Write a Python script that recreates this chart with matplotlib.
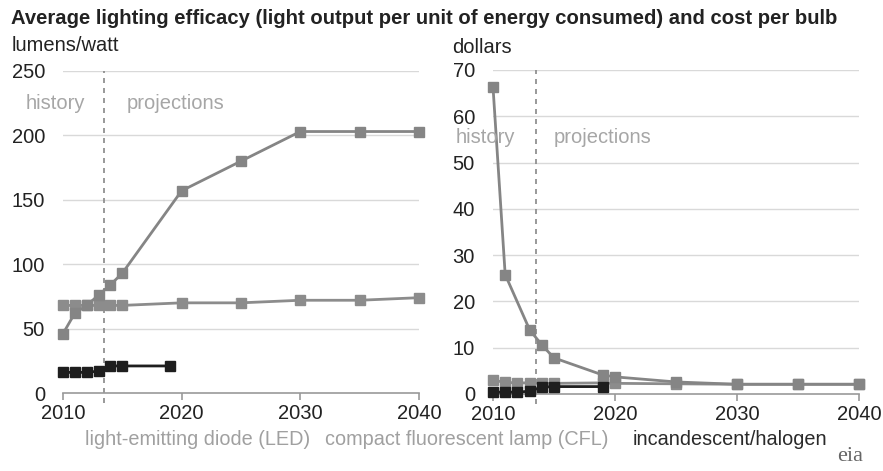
import matplotlib.pyplot as plt

plt.rcParams['font.family'] = ['Liberation Sans', 'DejaVu Sans']

# efficacy, lumens/watt
led_eff_years = [2010, 2011, 2012, 2013, 2014, 2015, 2020, 2025, 2030, 2035, 2040]
led_eff = [46, 62, 68, 76, 84, 93, 157, 180, 203, 203, 203]
cfl_eff_years = [2010, 2011, 2012, 2013, 2014, 2015, 2020, 2025, 2030, 2035, 2040]
cfl_eff = [68, 68, 68, 68, 68, 68, 70, 70, 72, 72, 74]
inc_eff_years = [2010, 2011, 2012, 2013, 2014, 2015, 2019]
inc_eff = [16, 16, 16, 17, 21, 21, 21]

# cost per bulb, dollars
led_cost_years = [2010, 2011, 2013, 2014, 2015, 2019, 2020, 2025, 2030, 2035, 2040]
led_cost = [66.4, 25.8, 13.9, 10.6, 7.8, 4.1, 3.7, 2.6, 2.1, 2.1, 2.1]
cfl_cost_years = [2010, 2011, 2012, 2013, 2014, 2015, 2019, 2020, 2025, 2030, 2035, 2040]
cfl_cost = [3.0, 2.5, 2.4, 2.4, 2.3, 2.3, 2.4, 2.3, 2.2, 2.1, 2.1, 2.1]
inc_cost_years = [2010, 2011, 2012, 2013, 2014, 2015, 2019]
inc_cost = [0.4, 0.4, 0.4, 0.6, 1.5, 1.6, 1.6]

x_ticks = [2010, 2020, 2030, 2040]
eff_ticks = [0, 50, 100, 150, 200, 250]
cost_ticks = [0, 10, 20, 30, 40, 50, 60, 70]
history_end = 2013.5

led_col = '#858585'
cfl_col = '#8c8c8c'
inc_col = '#1e1e1e'
grid_col = '#d9d9d9'
note_col = '#a6a6a6'

fig = plt.figure(figsize=(8.83, 4.71), dpi=100)
ax1 = fig.add_axes([0.0713, 0.1656, 0.4032, 0.6837])
ax2 = fig.add_axes([0.5583, 0.1635, 0.4145, 0.688])


def style(ax, yticks, ymax):
    ax.set_xlim(2010, 2040)
    ax.set_ylim(0, ymax)
    ax.set_xticks(x_ticks)
    ax.set_yticks(yticks)
    for s in ['top', 'right', 'left']:
        ax.spines[s].set_visible(False)
    ax.spines['bottom'].set_color('#999999')
    ax.spines['bottom'].set_linewidth(1.2)
    ax.tick_params(axis='y', length=0, pad=13, labelsize=14.5, labelcolor='#222222')
    ax.tick_params(axis='x', length=5, width=1.2, color='#999999', pad=3,
                   labelsize=14.5, labelcolor='#222222')
    for v in yticks[1:]:
        ax.axhline(v, color=grid_col, lw=1, zorder=0)
    ax.plot([history_end, history_end], [-0.03 * ymax, ymax],
            color='#888888', lw=1.2, ls=(0, (3, 3)), clip_on=False, zorder=1)


def series(ax, xs, ys, col):
    ax.plot(xs, ys, color=col, lw=2, marker='s', ms=6.5, clip_on=False, zorder=3)


style(ax1, eff_ticks, 250)
series(ax1, cfl_eff_years, cfl_eff, cfl_col)
series(ax1, led_eff_years, led_eff, led_col)
series(ax1, inc_eff_years, inc_eff, inc_col)
ax1.text(2009.4, 225, 'history', ha='center', va='center', fontsize=14.5, color=note_col)
ax1.text(2019.5, 225, 'projections', ha='center', va='center', fontsize=14.5, color=note_col)

style(ax2, cost_ticks, 70)
series(ax2, cfl_cost_years, cfl_cost, cfl_col)
series(ax2, led_cost_years, led_cost, led_col)
series(ax2, inc_cost_years, inc_cost, inc_col)
ax2.text(2009.35, 55.5, 'history', ha='center', va='center', fontsize=14.5, color=note_col)
ax2.text(2019.0, 55.5, 'projections', ha='center', va='center', fontsize=14.5, color=note_col)

fig.text(0.012, 0.96, 'Average lighting efficacy (light output per unit of energy consumed) and cost per bulb',
         fontsize=14.6, fontweight='bold', color='#222222', va='center')
fig.text(0.013, 0.903, 'lumens/watt', fontsize=14.5, color='#222222', va='center')
fig.text(0.512, 0.9, 'dollars', fontsize=14.5, color='#222222', va='center')

fig.text(0.096, 0.066, 'light-emitting diode (LED)', fontsize=14.3, color='#a0a0a0', va='center')
fig.text(0.368, 0.066, 'compact fluorescent lamp (CFL)', fontsize=14.3, color='#a0a0a0', va='center')
fig.text(0.716, 0.066, 'incandescent/halogen', fontsize=14.3, color='#2a2a2a', va='center')
fig.text(0.963, 0.03, 'eia', fontsize=16, family='Liberation Serif', color='#666666',
         ha='center', va='center')

fig.savefig('out.png', dpi=100)
